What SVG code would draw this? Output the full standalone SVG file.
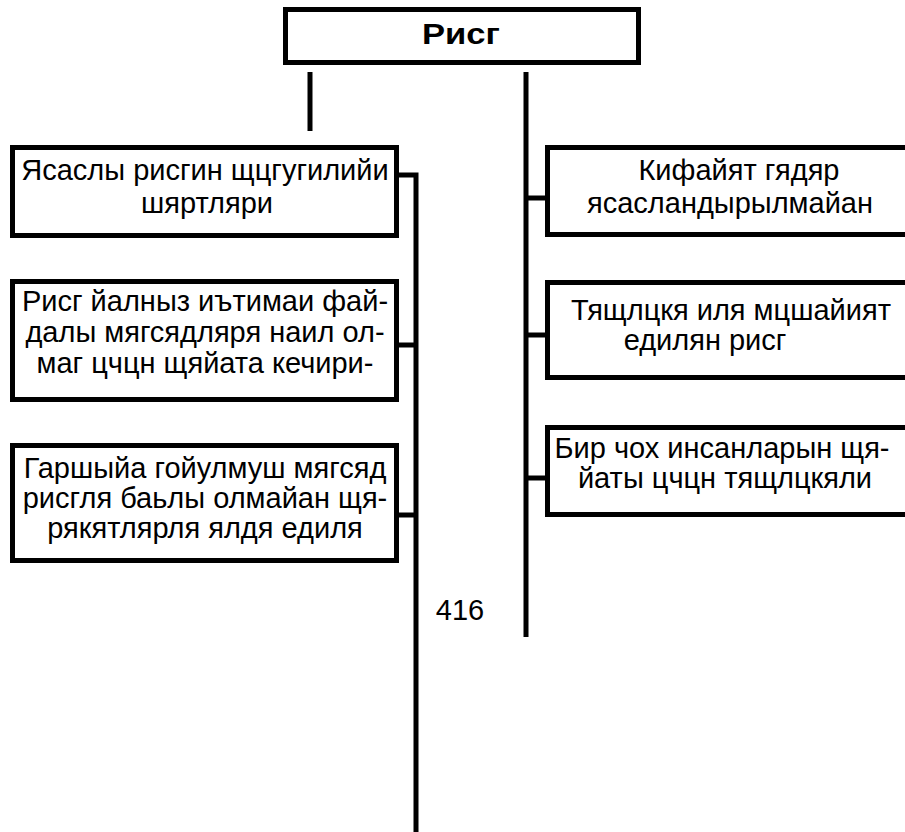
<svg xmlns="http://www.w3.org/2000/svg" width="905" height="832" viewBox="0 0 905 832">
<style>
.box{fill:#fff;stroke:#000;stroke-width:5}
.t{font-family:"Liberation Sans",Arial,sans-serif;font-size:29px;fill:#000;text-anchor:middle}
.b{font-weight:bold;font-size:30px}
.c{fill:none;stroke:#000;stroke-width:5}
</style>
<rect width="905" height="832" fill="#fff"/>
<g id="connectors">
<path class="c" d="M310 72V131"/>
<path class="c" d="M526 72V637"/>
<path class="c" d="M399 175H416V832"/>
<path class="c" d="M399 345H416"/>
<path class="c" d="M399 515H416"/>
<path class="c" d="M526 198H545"/>
<path class="c" d="M526 335H545"/>
<path class="c" d="M526 478H545"/>
</g>
<g id="root">
<rect class="box" x="285.5" y="9.5" width="353" height="53"/>
<text class="t b" x="461" y="44" textLength="78" lengthAdjust="spacingAndGlyphs">Рисг</text>
</g>
<g id="left1">
<rect class="box" x="12.5" y="147.5" width="384" height="88"/>
<text class="t" x="205" y="180">Ясаслы рисгин щцгугилийи</text>
<text class="t" x="207" y="213">шяртляри</text>
</g>
<g id="left2">
<rect class="box" x="12.5" y="281.5" width="384" height="118"/>
<text class="t" x="205" y="311">Рисг йалныз иътимаи фай-</text>
<text class="t" x="205" y="342">далы мягсядляря наил ол-</text>
<text class="t" x="205" y="373">маг цчцн щяйата кечири-</text>
</g>
<g id="left3">
<rect class="box" x="12.5" y="445.5" width="384" height="115"/>
<text class="t" x="205" y="478">Гаршыйа гойулмуш мягсяд</text>
<text class="t" x="205" y="508">рисгля баьлы олмайан щя-</text>
<text class="t" x="205" y="538">рякятлярля ялдя едиля</text>
</g>
<g id="right1">
<rect class="box" x="547.5" y="147.5" width="370" height="87"/>
<text class="t" x="739" y="180">Кифайят гядяр</text>
<text class="t" x="730" y="213">ясасландырылмайан</text>
</g>
<g id="right2">
<rect class="box" x="547.5" y="282.5" width="370" height="95"/>
<text class="t" x="731" y="320">Тящлцкя иля мцшайият</text>
<text class="t" x="705" y="350">едилян рисг</text>
</g>
<g id="right3">
<rect class="box" x="547.5" y="427.5" width="370" height="87"/>
<text class="t" x="722" y="458">Бир чох инсанларын щя-</text>
<text class="t" x="725" y="488">йаты цчцн тящлцкяли</text>
</g>
<g id="page">
<text class="t" x="460" y="620">416</text>
</g>
</svg>
